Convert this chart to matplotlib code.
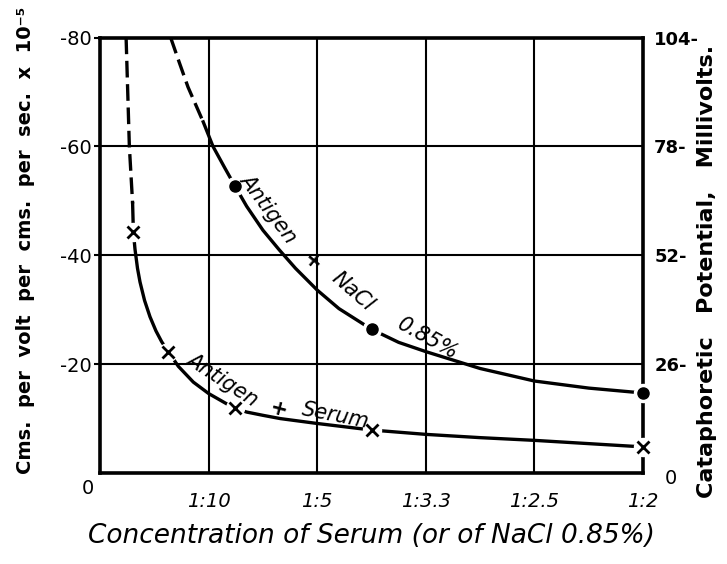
import matplotlib
matplotlib.use("Agg")
from matplotlib import pyplot as plt

# values (x = serum fraction, y = velocity x 1e-5)
nacl_dash_x = [0.065, 0.073, 0.081, 0.095]
nacl_dash_y = [-80, -75.4, -70.9, -64.5]
nacl_x = [0.095, 0.104, 0.115, 0.124, 0.135, 0.15, 0.165, 0.18, 0.2, 0.22, 0.25,
          0.275, 0.3, 0.35, 0.4, 0.45, 0.5]
nacl_y = [-64.5, -60, -56, -52.8, -49, -44.6, -41, -37.6, -33.6, -30.2, -26.4,
          -24, -22.3, -19.2, -16.9, -15.6, -14.7]
nacl_pts_x = [0.124, 0.25, 0.5]
nacl_pts_y = [-52.8, -26.4, -14.7]

serum_dash_x = [0.024, 0.027, 0.030]
serum_dash_y = [-80, -60, -49.5]
serum_x = [0.030, 0.0307, 0.0322, 0.0345, 0.0368, 0.041, 0.046, 0.0515, 0.0568, 0.0629,
           0.0721, 0.0859, 0.1, 0.1167, 0.1243, 0.135, 0.15, 0.166, 0.2, 0.25,
           0.3, 0.35, 0.4, 0.45, 0.5]
serum_y = [-49.5, -44.3, -41.1, -37.6, -35.1, -31.7, -28.7, -26.1, -24.1, -22.3,
           -19.6, -16.7, -14.6, -12.7, -11.9, -11.2, -10.6, -10.0, -9.1, -7.9,
           -7.1, -6.5, -6.0, -5.4, -4.8]
serum_pts_x = [0.0307, 0.0629, 0.1243, 0.25, 0.5]
serum_pts_y = [-44.3, -22.3, -11.9, -7.9, -4.8]

x_ticks = [0.1, 0.2, 0.3, 0.4, 0.5]
x_labels = ["1:10", "1:5", "1:3.3", "1:2.5", "1:2"]
y_ticks = [-80, -60, -40, -20]
y_labels = ["-80", "-60", "-40", "-20"]
mv_ticks = [26, 52, 78, 104]
mv_labels = ["26-", "52-", "78-", "104-"]

fig = plt.figure(figsize=(7.27, 5.64), dpi=100)
ax = fig.add_axes([0.1376, 0.1613, 0.7469, 0.7722])

ax.set_xlim(0, 0.5)
ax.set_ylim(0, -80)
ax.set_xticks(x_ticks)
ax.set_xticklabels(x_labels, fontsize=14, style="italic")
ax.set_yticks(y_ticks)
ax.set_yticklabels(y_labels, fontsize=14)
ax.tick_params(axis="x", length=0, pad=14)
ax.tick_params(axis="y", length=4, width=1.5, pad=2)
ax.grid(True, color="black", linewidth=1.5)
for s in ax.spines.values():
    s.set_linewidth(2.6)

lw = 2.4
ax.plot(nacl_dash_x, nacl_dash_y, color="black", lw=lw, ls=(0, (5, 2)))
ax.plot(nacl_x, nacl_y, color="black", lw=lw, clip_on=False)
ax.plot(serum_dash_x, serum_dash_y, color="black", lw=lw, ls=(0, (5, 2)))
ax.plot(serum_x, serum_y, color="black", lw=lw, clip_on=False)

# white halo behind markers gives the little breaks in the curves
ax.plot(nacl_pts_x, nacl_pts_y, "o", color="white", ms=13, clip_on=False, zorder=4)
ax.plot(nacl_pts_x, nacl_pts_y, "o", color="black", ms=8, clip_on=False, zorder=5)
ax.plot(serum_pts_x, serum_pts_y, "o", color="white", ms=13, clip_on=False, zorder=4)
ax.plot(serum_pts_x, serum_pts_y, "x", color="black", ms=8, mew=2, clip_on=False, zorder=5)

# curve labels, set along the curves
lab = dict(fontsize=15, style="italic", ha="center", va="center", zorder=6)
ax.text(0.155, -48.6, "Antigen", rotation=-53, **lab)
ax.text(0.1955, -38.8, "+", rotation=-40, fontweight="bold", **lab)
ax.text(0.2324, -33.3, "NaCl", rotation=-41, **lab)
ax.text(0.302, -24.7, "0.85%", rotation=-29, **lab)
ax.text(0.113, -17.1, "Antigen", rotation=-33, **lab)
ax.text(0.1646, -11.6, "+", rotation=-15, fontweight="bold", **lab)
ax.text(0.217, -10.6, "Serum", rotation=-11, **lab)

ax.set_xlabel("Concentration of Serum (or of NaCl 0.85%)", fontsize=19, style="italic", labelpad=8)
ax.set_ylabel("Cms.  per  volt  per  cms.  per  sec.  x  10⁻⁵", fontsize=14, fontweight="bold")
ax.yaxis.set_label_coords(-0.12, 0.534)
ax.annotate("0", xy=(0, 0), xytext=(-9, -11), textcoords="offset points",
            fontsize=14, ha="center", va="center", annotation_clip=False)

ax2 = ax.twinx()
ax2.set_ylim(0, 104)
ax2.set_yticks(mv_ticks)
ax2.set_yticklabels(mv_labels, fontsize=13, fontweight="bold")
ax2.tick_params(axis="y", length=0, pad=8)
for s in ax2.spines.values():
    s.set_visible(False)
ax2.set_ylabel("Cataphoretic   Potential,   Millivolts.", fontsize=16, fontweight="bold")
ax2.yaxis.set_label_coords(1.099, 0.463)
ax2.annotate("0", xy=(1, 0), xycoords="axes fraction", xytext=(20, -4), textcoords="offset points",
             fontsize=14, ha="center", va="center", annotation_clip=False)

fig.savefig("out.png", dpi=100)
